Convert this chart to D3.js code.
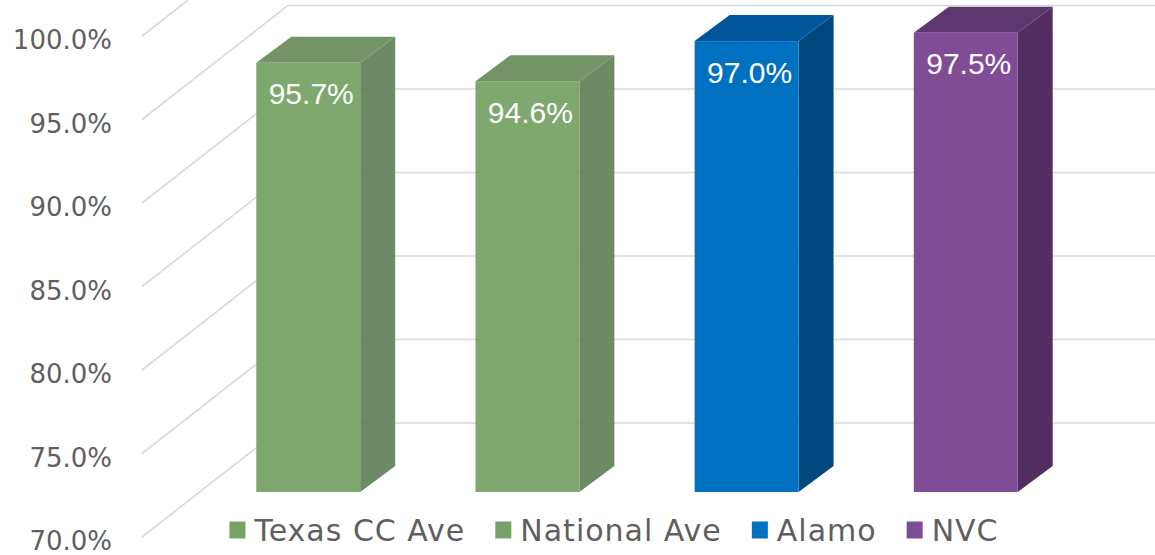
<!DOCTYPE html>
<html>

<head>
    <meta charset="UTF-8">
    <style>
        body {
            margin: 0;
            background: #ffffff;
        }

        .tick_label,
        .legend_text {
            font-family: "Century Gothic", "DejaVu Sans", sans-serif;
            fill: #5f5f5f;
        }

        .bar_label {
            font-family: "Liberation Sans", Arial, sans-serif;
            fill: #ffffff;
        }
    </style>
</head>

<body>
    <svg></svg>

    <script src="https://d3js.org/d3.v7.min.js"></script>

    <script>
        let width = 1155, height = 555;

        // data
        let categories = ["Texas CC Ave", "National Ave", "Alamo", "NVC"];
        let values = [95.7, 94.6, 97.0, 97.5];
        let ticks = [70, 75, 80, 85, 90, 95, 100];

        // front / side / top colours per bar
        let frontColors = ["#77a366", "#77a366", "#0070c0", "#804c96"];
        let sideColors = ["#63835a", "#63835a", "#00477e", "#532e62"];
        let topColors = ["#6b8e5e", "#6b8e5e", "#00569a", "#5e3670"];

        let svg = d3.select("svg")
            .attr("width", width)
            .attr("height", height);

        // front plane of the columns
        let y = d3.scaleLinear()
            .domain([70, 100])
            .range([492, -9]);

        let x = d3.scaleBand()
            .domain(categories)
            .range([141, 1133])
            .padding(0.526);

        let depth = { dx: 35, dy: -26 };      // column depth
        let wall = { front: 142, back: 288, dy: -114, lead: 45 }; // side wall of the 3d box

        // gridlines: diagonal on the side wall, then flat on the back wall
        let grid = svg.append("g").attr("id", "grid");
        grid.selectAll("path")
            .data(ticks)
            .enter()
            .append("path")
            .attr("fill", "none")
            .attr("stroke", "#d9d9d9")
            .attr("stroke-width", 1.6)
            .attr("d", d => {
                let y0 = y(d) + wall.lead;
                return "M" + wall.front + "," + y0 +
                    " L" + wall.back + "," + (y0 + wall.dy) +
                    " L" + width + "," + (y0 + wall.dy);
            });

        // y labels
        svg.append("g")
            .selectAll("text")
            .data(ticks)
            .enter()
            .append("text")
            .attr("class", "tick_label")
            .attr("x", 112)
            .attr("y", d => y(d) + wall.lead + 4)
            .attr("text-anchor", "end")
            .attr("dominant-baseline", "central")
            .style("font-size", "26px")
            .text(d => d.toFixed(1) + "%");

        let bars = categories.map((c, i) => ({ name: c, value: values[i], i: i }));

        let bar = svg.append("g")
            .attr("id", "bars")
            .selectAll("g")
            .data(bars)
            .enter()
            .append("g")
            .style("opacity", d => d.i < 2 ? 0.94 : 1);

        // side face
        bar.append("path")
            .attr("fill", d => sideColors[d.i])
            .attr("d", d => {
                let x1 = x(d.name) + x.bandwidth();
                let yt = y(d.value), yb = y(70);
                return "M" + x1 + "," + yt +
                    " L" + (x1 + depth.dx) + "," + (yt + depth.dy) +
                    " L" + (x1 + depth.dx) + "," + (yb + depth.dy) +
                    " L" + x1 + "," + yb + "Z";
            });

        // top face
        bar.append("path")
            .attr("fill", d => topColors[d.i])
            .attr("d", d => {
                let x0 = x(d.name), x1 = x0 + x.bandwidth();
                let yt = y(d.value);
                return "M" + x0 + "," + yt +
                    " L" + (x0 + depth.dx) + "," + (yt + depth.dy) +
                    " L" + (x1 + depth.dx) + "," + (yt + depth.dy) +
                    " L" + x1 + "," + yt + "Z";
            });

        // front face
        bar.append("rect")
            .attr("fill", d => frontColors[d.i])
            .attr("x", d => x(d.name))
            .attr("y", d => y(d.value))
            .attr("width", x.bandwidth())
            .attr("height", d => y(70) - y(d.value));

        // value labels
        bar.append("text")
            .attr("class", "bar_label")
            .attr("x", d => x(d.name) + x.bandwidth() / 2 + 3)
            .attr("y", d => y(d.value) + 31)
            .attr("text-anchor", "middle")
            .attr("dominant-baseline", "central")
            .style("font-size", "30px")
            .text(d => d.value.toFixed(1) + "%");

        // legend
        let legend = svg.append("g").attr("id", "legend");
        let items = legend.selectAll("g")
            .data(bars)
            .enter()
            .append("g");

        items.append("rect")
            .attr("width", 16)
            .attr("height", 17)
            .attr("y", -8.5)
            .attr("fill", d => frontColors[d.i]);

        items.append("text")
            .attr("class", "legend_text")
            .attr("x", 25)
            .attr("dominant-baseline", "central")
            .style("font-size", "30px")
            .style("letter-spacing", "1px")
            .text(d => d.name);

        let offset = 0;
        items.each(function () {
            let w = this.getBBox().width;
            d3.select(this).attr("data-x", offset);
            offset += w + 30;
        });
        let total = offset - 30;
        let start = 614 - total / 2;
        items.attr("transform", function () {
            return "translate(" + (start + (+d3.select(this).attr("data-x"))) + ",530)";
        });
    </script>

</body>

</html>
